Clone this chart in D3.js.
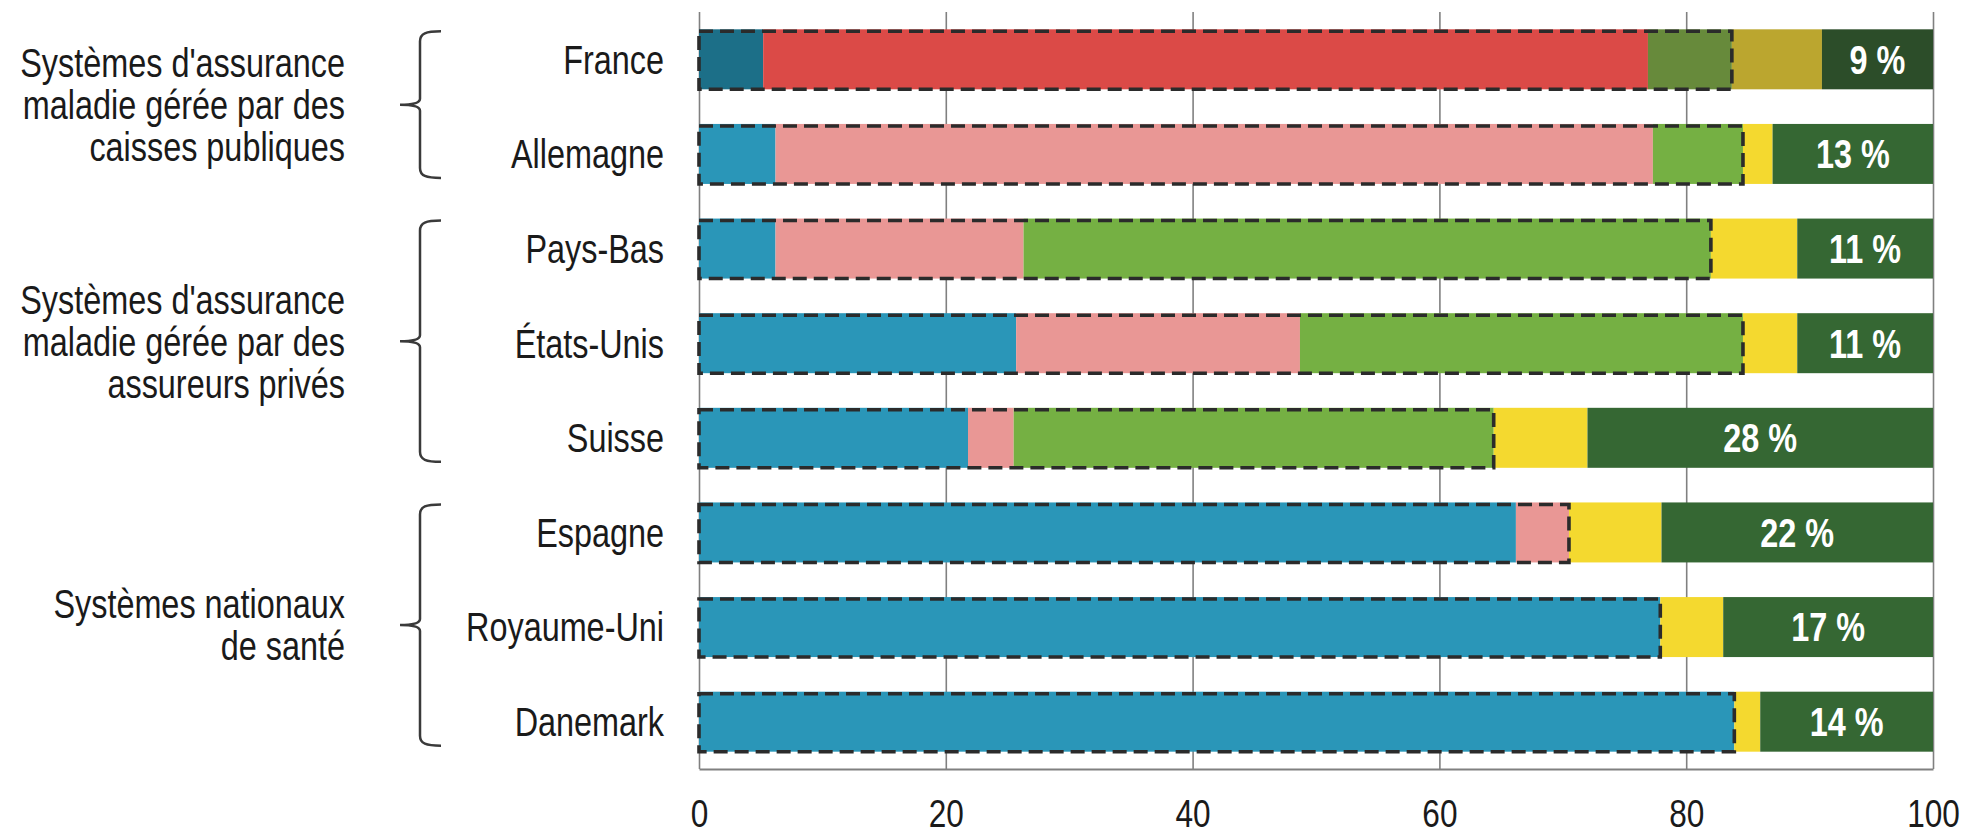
<!DOCTYPE html>
<html lang="fr">
<head>
<meta charset="utf-8">
<script src="https://cdn.jsdelivr.net/npm/d3@7"></script>
<style>
  html, body { margin: 0; padding: 0; background: #ffffff; }
  svg { display: block; }
  text { font-family: "Liberation Sans Narrow", "Arial Narrow", "Liberation Sans", sans-serif; }
</style>
</head>
<body>
<svg id="chart" width="1967" height="836"></svg>
<script>
// Pays, de haut en bas
const categories = ["France", "Allemagne", "Pays-Bas", "États-Unis", "Suisse", "Espagne", "Royaume-Uni", "Danemark"];

// Parts du financement (en %), une liste par composante
const etat                 = [5.2, 6.2, 6.2, 25.7, 21.8, 66.2, 77.9, 83.9];
const assurancePublique    = [71.7, 71.1, 20.1, 23.0, 3.7, 4.3, 0, 0];
const assurancePrivee      = [6.8, 7.3, 55.7, 35.9, 38.9, 0, 0, 0];
const assuranceFacultative = [7.3, 2.4, 7.0, 4.4, 7.6, 7.5, 5.1, 2.1];
const resteACharge         = [9, 13, 11, 11, 28, 22, 17, 14];

// Graduations de l'axe horizontal
const tickValues = [0, 20, 40, 60, 80, 100];

// Regroupements par type de système
const groupLabels = [
  ["Systèmes d'assurance", "maladie gérée par des", "caisses publiques"],
  ["Systèmes d'assurance", "maladie gérée par des", "assureurs privés"],
  ["Systèmes nationaux", "de santé"]
];
const groupFirst = ["France", "Pays-Bas", "Espagne"];
const groupLast  = ["Allemagne", "Suisse", "Danemark"];

const keys = ["etat", "assurancePublique", "assurancePrivee", "assuranceFacultative", "resteACharge"];
const colors = ["#2a96b8", "#e99795", "#75b043", "#f4d92f", "#356733"];
const colorsFrance = ["#1c6f88", "#db4a47", "#678a3b", "#bba62f", "#2c4d29"];

const table = categories.map((c, i) => ({
  pays: c,
  etat: etat[i],
  assurancePublique: assurancePublique[i],
  assurancePrivee: assurancePrivee[i],
  assuranceFacultative: assuranceFacultative[i],
  resteACharge: resteACharge[i]
}));

// Police étroite : on resserre horizontalement le texte
const narrow = "scale(0.81,1)";

const svg = d3.select("#chart");
const plotTop = 12, plotBottom = 769;

const x = d3.scaleLinear().domain([0, 100]).range([699, 1933]);
const y = d3.scaleBand().domain(categories).range([plotTop, plotBottom])
  .paddingInner(0.366).paddingOuter(0.183);
const bw = y.bandwidth();

// Axe horizontal avec lignes de quadrillage verticales
const axis = svg.append("g")
  .attr("transform", `translate(0,${plotBottom})`)
  .call(d3.axisBottom(x).tickValues(tickValues).tickSize(-(plotBottom - plotTop)).tickSizeOuter(0).tickPadding(30));
axis.select(".domain").attr("stroke", "#808080").attr("stroke-width", 2);
axis.selectAll(".tick line").attr("stroke", "#808080").attr("stroke-width", 1.6);
axis.selectAll(".tick text")
  .attr("fill", "#1a1a1a")
  .attr("transform", narrow)
  .style("font-size", "39px");

// Barres empilées
const stacked = d3.stack().keys(keys)(table);
const layers = svg.append("g").selectAll("g")
  .data(stacked)
  .join("g");

layers.selectAll("rect")
  .data((layer, k) => layer.map(d => ({ d, k })))
  .join("rect")
  .attr("x", o => x(o.d[0]))
  .attr("y", o => y(o.d.data.pays))
  .attr("width", o => x(o.d[1]) - x(o.d[0]))
  .attr("height", bw)
  .attr("fill", o => (o.d.data.pays === "France" ? colorsFrance : colors)[o.k]);

// Cadre en pointillés : part obligatoire (trois premières composantes)
svg.append("g").selectAll("rect")
  .data(table)
  .join("rect")
  .attr("x", d => x(0))
  .attr("y", d => y(d.pays) + 2)
  .attr("width", d => x(d.etat + d.assurancePublique + d.assurancePrivee) - x(0))
  .attr("height", bw - 2)
  .attr("fill", "none")
  .attr("stroke", "#2b2b2b")
  .attr("stroke-width", 3.6)
  .attr("stroke-dasharray", "14,7");

// Étiquettes du reste à charge
svg.append("g").selectAll("text")
  .data(stacked[4])
  .join("text")
  .attr("transform", d => `translate(${(x(d[0]) + x(d[1])) / 2},${y(d.data.pays) + bw / 2}) ${narrow}`)
  .attr("dy", "0.36em")
  .attr("text-anchor", "middle")
  .attr("fill", "#ffffff")
  .style("font-size", "40px")
  .style("font-weight", "bold")
  .text(d => `${d.data.resteACharge} %`);

// Noms des pays
svg.append("g").selectAll("text")
  .data(categories)
  .join("text")
  .attr("transform", d => `translate(664,${y(d) + bw / 2}) ${narrow}`)
  .attr("dy", "0.36em")
  .attr("text-anchor", "end")
  .attr("fill", "#1a1a1a")
  .style("font-size", "40px")
  .text(d => d);

// Accolades et libellés des groupes
const braceX = 420, hookX = 441, tipX = 400;
groupLabels.forEach((lines, g) => {
  const y0 = y(groupFirst[g]) + 2;
  const y1 = y(groupLast[g]) + bw - 6;
  const mid = (y0 + y1) / 2;
  const p = d3.path();
  p.moveTo(hookX, y0);
  p.bezierCurveTo(426, y0, braceX, y0 + 2, braceX, y0 + 10);
  p.lineTo(braceX, mid - 6);
  p.quadraticCurveTo(braceX, mid, tipX, mid);
  p.quadraticCurveTo(braceX, mid, braceX, mid + 6);
  p.lineTo(braceX, y1 - 10);
  p.bezierCurveTo(braceX, y1 - 2, 426, y1, hookX, y1);
  svg.append("path")
    .attr("d", p.toString())
    .attr("fill", "none")
    .attr("stroke", "#3a3a3a")
    .attr("stroke-width", 2.5);

  const lh = 42;
  const t = svg.append("text")
    .attr("transform", `translate(345,${mid}) ${narrow}`)
    .attr("text-anchor", "end")
    .attr("fill", "#1a1a1a")
    .style("font-size", "40px");
  lines.forEach((line, i) => {
    t.append("tspan")
      .attr("x", 0)
      .attr("y", (i - (lines.length - 1) / 2) * lh)
      .attr("dy", "0.36em")
      .text(line);
  });
});
</script>
</body>
</html>
